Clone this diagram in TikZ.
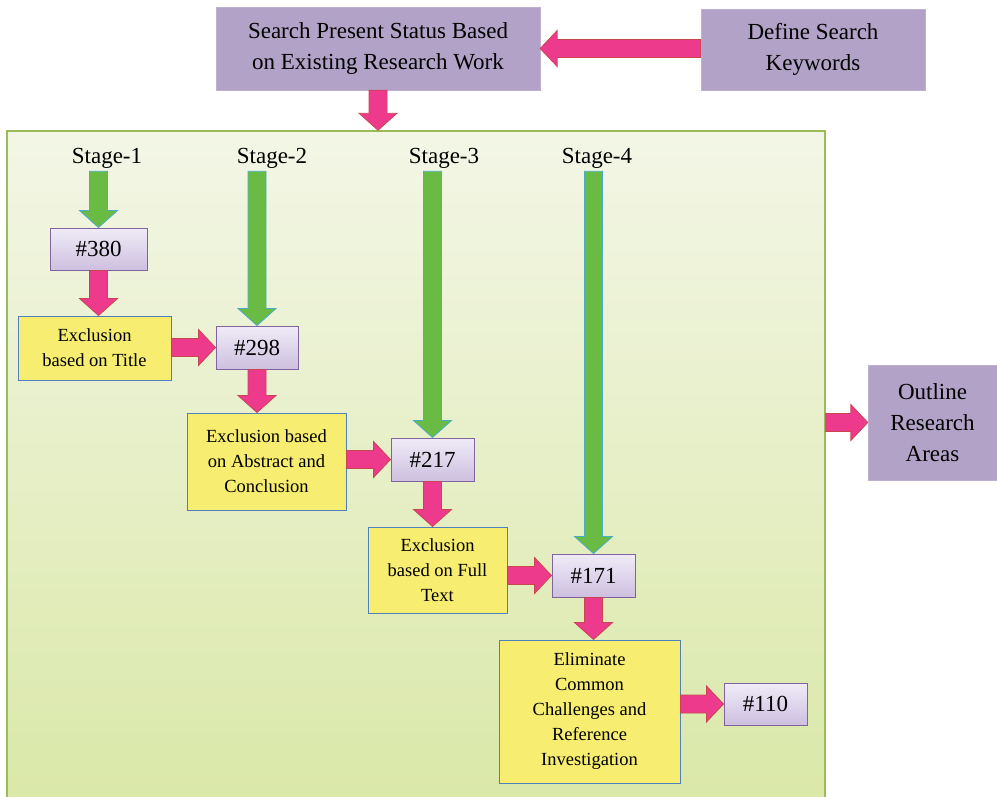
\documentclass[tikz,border=0pt]{standalone}
\usepackage{fontspec}
\setmainfont{Liberation Serif}
\usetikzlibrary{calc}

\definecolor{lilac}{RGB}{178,162,199}
\definecolor{numtop}{RGB}{240,235,247}
\definecolor{numbot}{RGB}{205,192,224}
\definecolor{numedge}{RGB}{128,100,162}
\definecolor{yel}{RGB}{247,237,112}
\definecolor{yeledge}{RGB}{79,129,189}
\definecolor{pinkfill}{RGB}{238,58,140}
\definecolor{pinkedge}{RGB}{200,70,80}
\definecolor{grnfill}{RGB}{106,187,68}
\definecolor{grnedge}{RGB}{75,172,198}
\definecolor{paneltop}{RGB}{243,246,230}
\definecolor{panelbot}{RGB}{218,232,168}
\definecolor{paneledge}{RGB}{155,187,89}

\newcommand{\bigtxt}{\fontsize{23}{31}\selectfont}
\newcommand{\numtxt}{\fontsize{23}{28}\selectfont}
\newcommand{\smalltxt}{\fontsize{18.5}{25}\selectfont}

\tikzset{
  bigbox/.style={fill=lilac, draw=lilac!85!white, align=center, font=\bigtxt, inner sep=0pt},
  numbox/.style={draw=numedge, line width=1pt, top color=numtop, bottom color=numbot, font=\numtxt, inner sep=0pt},
  yelbox/.style={draw=yeledge, line width=1pt, fill=yel, align=center, font=\smalltxt, inner sep=0pt},
  stagelbl/.style={font=\bigtxt, inner sep=3pt},
  pinkblk/.style={fill=pinkfill, draw=pinkedge, line width=0.8pt, line join=miter},
  grnblk/.style={fill=grnfill, draw=grnedge, line width=0.8pt, line join=miter},
  % block arrow going down, shaft at the start's x
  downblk/.style={to path={let \p1=(\tikztostart), \p2=(\tikztotarget) in
    (\x1-9pt,\y1) -- (\x1+9pt,\y1) -- (\x1+9pt,\y2+17pt) -- (\x1+19pt,\y2+17pt)
    -- (\x1,\y2) -- (\x1-19pt,\y2+17pt) -- (\x1-9pt,\y2+17pt) -- cycle}},
  % block arrow going left or right, at the target's y
  sideblk/.style={to path={let \p1=(\tikztostart), \p2=(\tikztotarget), \n1={17*sign(\x2-\x1)} in
    (\x1,\y2+9pt) -- ({\x2-(\n1)*1pt},\y2+9pt) -- ({\x2-(\n1)*1pt},\y2+18pt)
    -- (\x2,\y2) -- ({\x2-(\n1)*1pt},\y2-18pt) -- ({\x2-(\n1)*1pt},\y2-9pt) -- (\x1,\y2-9pt) -- cycle}}
}

\begin{document}
\begin{tikzpicture}[x=1pt, y=-1pt]
    \useasboundingbox (0,0) rectangle (997,796);

    % green panel
    \node[top color=paneltop, bottom color=panelbot, draw=paneledge, line width=1.5pt,
          minimum width=818pt, minimum height=669pt, inner sep=0pt] (panel) at (416,465.5) {};

    % top row
    \node[bigbox, minimum width=324pt, minimum height=83pt] (top) at (378,48.5)
        {Search Present Status Based\\on Existing Research Work};
    \node[bigbox, minimum width=224pt, minimum height=81pt] (keys) at (813,49.5)
        {Define Search\\Keywords};
    \node[bigbox, minimum width=129pt, minimum height=115pt] (outline) at (932.5,422.5)
        {Outline\\Research\\Areas};

    % stages
    \node[stagelbl] (s1) at (107,158) {Stage-1};
    \node[stagelbl] (s2) at (272,158) {Stage-2};
    \node[stagelbl] (s3) at (444,158) {Stage-3};
    \node[stagelbl] (s4) at (597,158) {Stage-4};

    % counts
    \node[numbox, minimum width=97pt, minimum height=42pt] (n380) at (98.5,249) {\#380};
    \node[numbox, minimum width=82pt, minimum height=43pt] (n298) at (257,347.5) {\#298};
    \node[numbox, minimum width=83pt, minimum height=43pt] (n217) at (432.5,459.5) {\#217};
    \node[numbox, minimum width=83pt, minimum height=43pt] (n171) at (593.5,575.5) {\#171};
    \node[numbox, minimum width=83pt, minimum height=42pt] (n110) at (765.5,704) {\#110};

    % exclusion steps
    \node[yelbox, minimum width=153pt, minimum height=64pt] (ex1) at (94.5,348)
        {Exclusion\\based on Title};
    \node[yelbox, minimum width=159pt, minimum height=97pt] (ex2) at (266.5,461.5)
        {Exclusion based\\on Abstract and\\Conclusion};
    \node[yelbox, minimum width=139pt, minimum height=86pt] (ex3) at (437.5,570)
        {Exclusion\\based on Full\\Text};
    \node[yelbox, minimum width=181pt, minimum height=143pt] (ex4) at (589.5,711.5)
        {Eliminate\\Common\\Challenges and\\Reference\\Investigation};

    % arrows
    \draw[pinkblk, sideblk] (keys.west) to (top.east);
    \draw[pinkblk, downblk] (top.south) to (panel.north -| top.south);
    \draw[pinkblk, sideblk] (panel.east) to (outline.west);

    \draw[grnblk, downblk] (s1.south -| n380.north) to (n380.north);
    \draw[grnblk, downblk] (s2.south -| n298.north) to (n298.north);
    \draw[grnblk, downblk] (s3.south -| n217.north) to (n217.north);
    \draw[grnblk, downblk] (s4.south -| n171.north) to (n171.north);

    \draw[pinkblk, downblk] (n380.south) to (ex1.north -| n380.south);
    \draw[pinkblk, downblk] (n298.south) to (ex2.north -| n298.south);
    \draw[pinkblk, downblk] (n217.south) to (ex3.north -| n217.south);
    \draw[pinkblk, downblk] (n171.south) to (ex4.north -| n171.south);

    \draw[pinkblk, sideblk] (ex1.east) to (n298.west);
    \draw[pinkblk, sideblk] (ex2.east) to (n217.west);
    \draw[pinkblk, sideblk] (ex3.east) to (n171.west);
    \draw[pinkblk, sideblk] (ex4.east) to (n110.west);
\end{tikzpicture}
\end{document}
